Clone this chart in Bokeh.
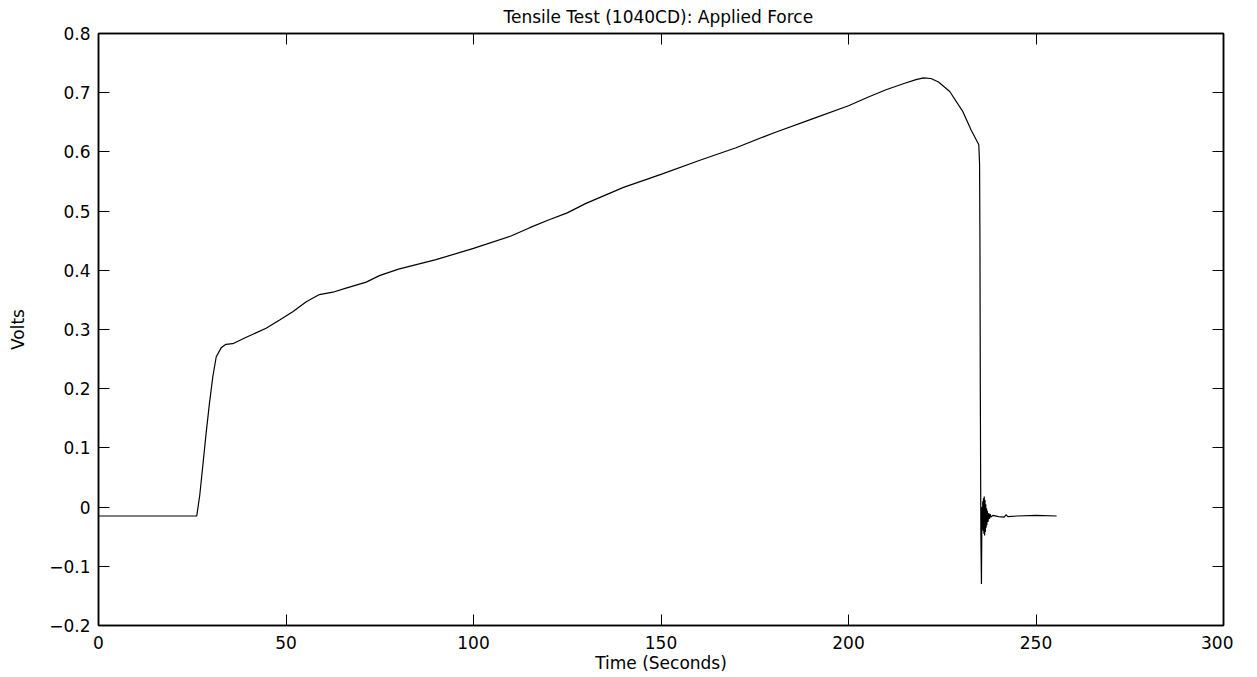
from bokeh.plotting import figure
from bokeh.models import LinearAxis, FixedTicker, Range1d, CustomJSTickFormatter
from bokeh.embed import file_html
from bokeh.resources import INLINE

# ---- data ----
time_s = [0.0, 26.2, 27.0, 27.8, 28.7, 29.6, 30.5, 31.4, 32.7, 34.0, 35.8,
          39.4, 44.7, 48.3, 51.8, 55.4, 58.9, 62.5, 66.0, 71.4, 74.9,
          80.0, 90.0, 100.0, 110.0, 115.0, 120.0, 125.0, 130.0, 140.0,
          150.0, 160.0, 170.0, 180.0, 190.0, 200.0, 205.0, 210.0, 215.0,
          218.0, 220.0, 222.0, 224.0, 227.0, 230.5, 232.7, 234.75, 234.95,
          235.05, 235.15, 235.3, 235.45,
          235.6, 235.7, 235.8, 235.9, 236.0, 236.1, 236.2, 236.3, 236.4,
          236.5, 236.6, 236.7, 236.8, 236.9, 237.0, 237.2, 237.4, 237.6,
          237.8, 238.0, 238.5, 240.0, 241.5, 242.0, 242.5, 245.0, 250.0, 255.5]
volts = [-0.015, -0.015, 0.02, 0.069, 0.125, 0.176, 0.221, 0.254, 0.269, 0.275, 0.276,
         0.287, 0.302, 0.316, 0.330, 0.347, 0.359, 0.363, 0.370, 0.380, 0.391,
         0.402, 0.418, 0.437, 0.458, 0.472, 0.485, 0.497, 0.513, 0.540,
         0.562, 0.585, 0.607, 0.632, 0.655, 0.678, 0.692, 0.705, 0.716,
         0.722, 0.725, 0.724, 0.718, 0.702, 0.668, 0.637, 0.612, 0.58,
         0.45, 0.2, -0.05, -0.13,
         0.0, -0.03, 0.01, -0.04, 0.015, -0.045, 0.018, -0.048, 0.012,
         -0.042, 0.005, -0.035, -0.002, -0.03, -0.006, -0.025, -0.01, -0.02,
         -0.012, -0.017, -0.014, -0.016, -0.017, -0.013, -0.016, -0.015, -0.014, -0.015]

x_ticks = [0, 50, 100, 150, 200, 250, 300]
y_ticks = [-0.2, -0.1, 0, 0.1, 0.2, 0.3, 0.4, 0.5, 0.6, 0.7, 0.8]
y_tick_labels = ["\u22120.2", "\u22120.1", "0", "0.1", "0.2", "0.3", "0.4",
                 "0.5", "0.6", "0.7", "0.8"]

title_text = "Tensile Test (1040CD):  Applied Force"
x_label = "Time (Seconds)"
y_label = "Volts"

FONT = "DejaVu Sans"
FS = "17px"

p = figure(frame_width=1125, frame_height=592, output_backend="svg",
           toolbar_location=None, x_range=Range1d(0, 300), y_range=Range1d(-0.2, 0.8),
           min_border_left=98, min_border_top=33, min_border_right=10,
           min_border_bottom=5, background_fill_color="white",
           border_fill_color="white", title=title_text)

p.title.align = "center"
p.title.vertical_align = "top"
p.title.text_font = FONT
p.title.text_font_size = FS
p.title.text_font_style = "normal"
p.title.text_color = "black"
p.title.standoff = 10
p.title.offset = 0

p.grid.visible = False
p.outline_line_color = "black"
p.outline_line_width = 1.5

p.line(time_s, volts, line_color="black", line_width=1.2)

def style_axis(ax, ticks, show_labels):
    ax.ticker = FixedTicker(ticks=ticks)
    ax.major_tick_in = 11
    ax.major_tick_out = 0
    ax.minor_tick_in = 0
    ax.minor_tick_out = 0
    ax.major_tick_line_color = "black"
    ax.major_tick_line_width = 1
    ax.axis_line_color = "black"
    ax.axis_line_width = 1.5
    if show_labels:
        ax.major_label_text_font = FONT
        ax.major_label_text_font_size = FS
        ax.major_label_text_color = "black"
        ax.major_label_standoff = 8
        ax.axis_label_text_font = FONT
        ax.axis_label_text_font_size = FS
        ax.axis_label_text_font_style = "normal"
        ax.axis_label_text_color = "black"
    else:
        ax.formatter = CustomJSTickFormatter(code="return '';")
        ax.major_label_standoff = 0

xa = p.xaxis[0]
style_axis(xa, x_ticks, True)
xa.major_label_standoff = 10
xa.axis_label = x_label
xa.axis_label_standoff = 1

ya = p.yaxis[0]
style_axis(ya, y_ticks, True)
ya.axis_label = y_label
ya.axis_label_standoff = 18
ya.major_label_overrides = {t: s for t, s in zip(y_ticks, y_tick_labels)}

top = LinearAxis()
style_axis(top, x_ticks, False)
p.add_layout(top, "above")
right = LinearAxis()
style_axis(right, y_ticks, False)
p.add_layout(right, "right")

open("out.html", "w").write(file_html(p, INLINE))
